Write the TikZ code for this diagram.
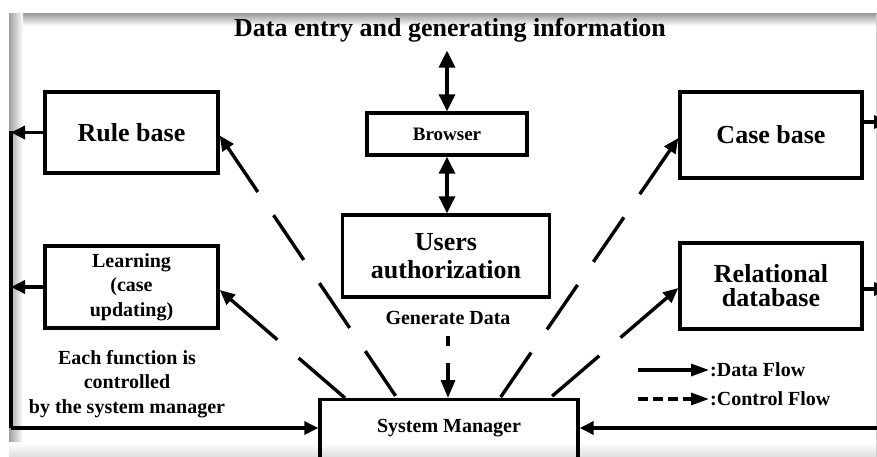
\documentclass[tikz,border=0pt]{standalone}
\usepackage{fontspec}
\setmainfont{Liberation Serif}
\usetikzlibrary{arrows.meta,calc}
\begin{document}
\begin{tikzpicture}[x=1pt,y=-1pt,
  box/.style={draw, line width=3.4pt, align=center, inner sep=0pt},
  big/.style={font=\fontsize{26}{28}\selectfont\bfseries},
  mid/.style={font=\fontsize{20}{24.5}\selectfont\bfseries, align=center},
  flow/.style={line width=3.4pt, -{Triangle[length=14pt,width=13pt]}},
  dbl/.style={line width=3.4pt, {Triangle[length=17pt,width=16pt]}-{Triangle[length=17pt,width=16pt]}},
  ctrl/.style={line width=3.4pt, {Triangle[length=15pt,width=13pt]}-},
  longdash/.style={dash pattern=on 54pt off 28pt},
  shortdash/.style={dash pattern=on 62pt off 28pt},
  legarrow/.style={line width=3.2pt, -{Triangle[length=18pt,width=12pt]}}
]
\useasboundingbox (0,0) rectangle (877,457);
\clip (0,0) rectangle (877,457);
\fill[white] (0,0) rectangle (877,457);
% frame shadow
\shade[top color=gray!75, bottom color=white] (9,14) rectangle (877,26);
\shade[left color=gray!75, right color=white] (9,14) rectangle (23,457);
\shade[top color=white, bottom color=gray!25] (9,442) rectangle (877,457);
\draw[gray!35, line width=1pt] (876,14) -- (876,457);

% title and central column
\node[big] (title) at (450,30) {Data entry and generating information};
\node[box, font=\fontsize{19}{22}\selectfont\bfseries, minimum width=160, minimum height=42] (browser) at (447,134) {Browser};
\node[box, big, minimum width=207, minimum height=82] (ua) at (446,256) {Users\\authorization};
\node[mid] (gen) at (448,318) {Generate Data};
\node[box, minimum width=258, minimum height=80, anchor=north] (sm) at (449,398) {};
\node[mid] (smt) at (449,428) {System Manager};

% left boxes
\node[box, big, minimum width=173, minimum height=81] (rule) at (131.5,132.5) {Rule base};
\node[box, mid, minimum width=173, minimum height=82] (learn) at (131.5,287) {Learning\\(case\\updating)};
\node[mid] (note) at (127,384) {Each function is\\controlled\\by the system manager};

% right boxes
\node[box, big, minimum width=182, minimum height=86] (case) at (771,135) {Case base};
\node[box, font=\fontsize{26}{24}\selectfont\bfseries, minimum width=182, minimum height=86] (rel) at (771,286) {Relational\\database};

% central arrows
\draw[dbl, shorten <=5pt] (title.south -| browser.north) -- (browser.north);
\draw[dbl] (browser.south) -- (browser.south |- ua.north);
\draw[line width=3.4pt, -{Triangle[length=18pt,width=14pt]}, dash pattern=on 10pt off 17pt on 200pt, shorten <=8pt] (gen.south) -- (gen.south |- sm.north);

% left data flows
\coordinate (ltop) at (11,131);
\coordinate (lbot) at (11,428);
\draw[line width=3.4pt] (ltop) -- (lbot);
\draw[flow] (lbot) -- (lbot -| sm.west);
\draw[flow] (rule.west) -- (rule.west -| ltop);
\draw[flow] (learn.west) -- (learn.west -| ltop);

% right data flows
\coordinate (rc) at (888,122);
\coordinate (rr) at (888,289);
\coordinate (rbot) at (880,428);
\draw[flow] (case.east |- rc) -- (rc);
\draw[flow] (rel.east |- rr) -- (rr);
\draw[flow] (rbot) -- (rbot -| sm.east);

% control flows
\draw[ctrl, longdash] ([yshift=-3pt]rule.east) -- ($(sm.north)+(-52,0)$);
\draw[ctrl, shortdash] ([yshift=-3pt]learn.east) -- ($(sm.north)+(-104,0)$);
\draw[ctrl, longdash] ([yshift=-3pt]case.west) -- ($(sm.north)+(51,0)$);
\draw[ctrl, shortdash] ([yshift=-2pt]rel.west) -- ($(sm.north)+(101,0)$);

% legend
\coordinate (d1) at (638,370);
\node[mid, anchor=west, inner sep=1pt] (dl) at (709,370) {:Data Flow};
\draw[legarrow] (d1) -- (dl.west);
\coordinate (c1) at (638,399);
\node[mid, anchor=west, inner sep=1pt] (cl) at (709,399) {:Control Flow};
\draw[legarrow, dash pattern=on 10pt off 5pt] (c1) -- (cl.west);
\end{tikzpicture}
\end{document}
